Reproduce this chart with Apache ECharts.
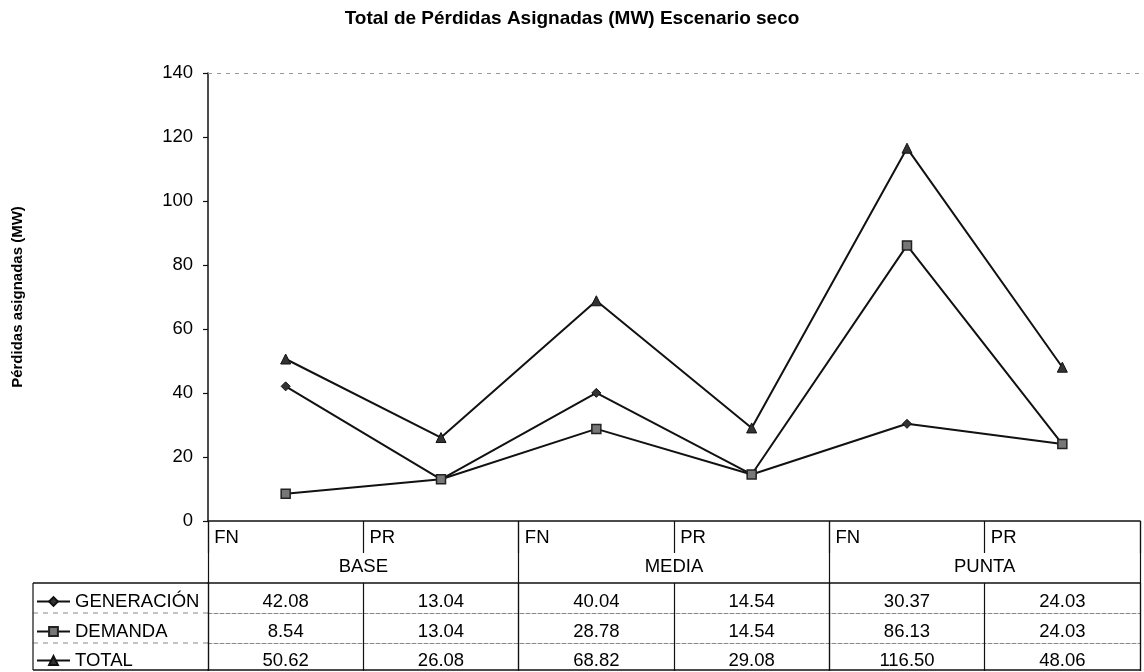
<!DOCTYPE html>
<html>
<head>
<meta charset="utf-8">
<script src="https://cdn.jsdelivr.net/npm/echarts@6/dist/echarts.min.js"></script>
<style>
  html, body { margin: 0; padding: 0; background: #fff; }
  #chart { width: 1144px; height: 672px; }
</style>
</head>
<body>
<div id="chart"></div>
<script>
// Loss allocation per load block (BASE / MEDIA / PUNTA) and period (FN / PR)
const periods = ['FN', 'PR', 'FN', 'PR', 'FN', 'PR'];
const blocks = ['BASE', 'MEDIA', 'PUNTA'];
const seriesNames = ['GENERACIÓN', 'DEMANDA', 'TOTAL'];
const generacion = [42.08, 13.04, 40.04, 14.54, 30.37, 24.03];
const demanda = [8.54, 13.04, 28.78, 14.54, 86.13, 24.03];
const total = [50.62, 26.08, 68.82, 29.08, 116.50, 48.06];
const yMin = 0, yMax = 140, yStep = 20;

const FONT = '"Liberation Sans", Arial, sans-serif';
const INK = '#111';
const FS = 18.5;

const chart = echarts.init(document.getElementById('chart'), null, { renderer: 'canvas' });

// one table row under the plot: values centred in each category cell
function rowAxis(values, offset, lineType, margin, tickLen) {
  return {
    type: 'category', position: 'bottom', offset: offset, data: periods,
    boundaryGap: true,
    axisLine: { show: true, lineStyle: { color: lineType === 'solid' ? INK : '#888', width: lineType === 'solid' ? 1.5 : 1, type: lineType } },
    axisTick: { show: tickLen > 0, interval: 0, length: tickLen, lineStyle: { color: INK, width: 1.2 } },
    axisLabel: values ? {
      show: true, interval: 0, margin: margin, fontSize: FS, color: '#000', fontFamily: FONT,
      formatter: (v, i) => values[i].toFixed(2)
    } : { show: false },
    splitLine: { show: false }
  };
}

const lineStyle = { color: INK, width: 2 };

const option = {
  backgroundColor: '#fff',
  animation: false,
  textStyle: { fontFamily: FONT },
  title: {
    text: 'Total de Pérdidas Asignadas (MW) Escenario seco',
    left: 'center', top: 4,
    textStyle: { fontSize: 19, fontWeight: 'bold', color: '#000', fontFamily: FONT }
  },
  grid: { left: 208, right: 4, top: 73, bottom: 151, containLabel: false },
  legend: seriesNames.map((n, i) => ({
    data: [n], left: 36, top: [592, 622, 651][i], padding: 0,
    itemWidth: 33, itemHeight: 11, selectedMode: false,
    textStyle: { fontSize: FS, color: '#000', fontFamily: FONT }
  })),
  xAxis: [
    {
      type: 'category', position: 'bottom', data: periods, boundaryGap: true,
      axisLine: { show: true, lineStyle: { color: INK, width: 1.5 } },
      axisTick: { show: true, interval: 0, length: 32, lineStyle: { color: INK, width: 1.2 } },
      axisLabel: {
        interval: 0, margin: 7, fontSize: FS, color: '#000', fontFamily: FONT,
        formatter: v => '{l|' + v + '}',
        rich: { l: { width: 143, align: 'left', fontSize: FS, fontFamily: FONT, color: '#000' } }
      },
      splitLine: { show: false }
    },
    {
      type: 'category', position: 'bottom', data: blocks, boundaryGap: true,
      axisLine: { show: false },
      axisTick: { show: true, interval: 0, length: 150, lineStyle: { color: INK, width: 1.2 } },
      axisLabel: { interval: 0, margin: 36, fontSize: FS, color: '#000', fontFamily: FONT },
      splitLine: { show: false }
    },
    rowAxis(generacion, 62, 'solid', 9, 88),
    rowAxis(demanda, 92, 'dashed', 9, 0),
    rowAxis(total, 122, 'dashed', 8, 0),
    rowAxis(null, 149, 'solid', 0, 0)
  ],
  yAxis: {
    type: 'value', min: yMin, max: yMax, interval: yStep,
    name: 'Pérdidas asignadas (MW)', nameLocation: 'middle', nameGap: 183, nameRotate: 90,
    nameTextStyle: { fontSize: 15, fontWeight: 'bold', color: '#000', fontFamily: FONT },
    axisLine: { show: true, lineStyle: { color: INK, width: 1.5 } },
    axisTick: { show: true, length: 5, lineStyle: { color: INK, width: 1.2 } },
    axisLabel: { margin: 15, fontSize: FS, color: '#000', fontFamily: FONT },
    splitLine: { show: false }
  },
  series: [
    {
      name: seriesNames[0], type: 'line', data: generacion,
      symbol: 'diamond', symbolSize: 9,
      lineStyle: lineStyle, itemStyle: { color: '#333', borderColor: INK, borderWidth: 1 },
      markLine: {
        silent: true, symbol: 'none', label: { show: false },
        lineStyle: { color: '#999', width: 1, type: [4, 5] },
        data: [{ yAxis: yMax }]
      }
    },
    {
      name: seriesNames[1], type: 'line', data: demanda,
      symbol: 'rect', symbolSize: 9,
      lineStyle: lineStyle, itemStyle: { color: '#777', borderColor: '#222', borderWidth: 1.5 }
    },
    {
      name: seriesNames[2], type: 'line', data: total,
      symbol: 'triangle', symbolSize: 10,
      lineStyle: lineStyle, itemStyle: { color: '#333', borderColor: INK, borderWidth: 1 }
    }
  ],
  // frame of the legend column to the left of the data rows
  graphic: [
    { type: 'line', shape: { x1: 33, y1: 583, x2: 208, y2: 583 }, style: { stroke: INK, lineWidth: 1.5 } },
    { type: 'line', shape: { x1: 33, y1: 613, x2: 208, y2: 613 }, style: { stroke: '#888', lineWidth: 1, lineDash: [5, 5] } },
    { type: 'line', shape: { x1: 33, y1: 643, x2: 208, y2: 643 }, style: { stroke: '#888', lineWidth: 1, lineDash: [5, 5] } },
    { type: 'line', shape: { x1: 33, y1: 670, x2: 208, y2: 670 }, style: { stroke: INK, lineWidth: 1.5 } },
    { type: 'line', shape: { x1: 33, y1: 583, x2: 33, y2: 670 }, style: { stroke: INK, lineWidth: 1.2 } }
  ]
};

chart.setOption(option);
</script>
</body>
</html>
